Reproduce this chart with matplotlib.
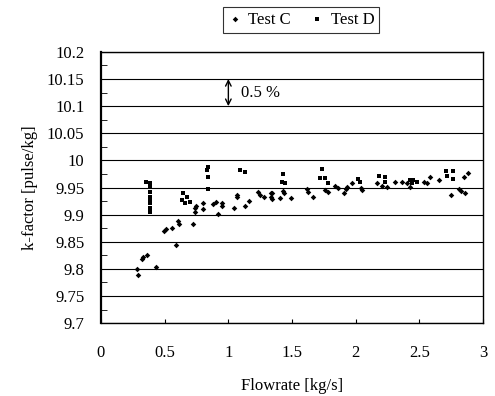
import numpy as np
import matplotlib
matplotlib.use('Agg')
import matplotlib.pyplot as plt
from matplotlib.ticker import MultipleLocator

plt.rcParams['font.family'] = ['Liberation Serif', 'DejaVu Serif']

# Test C (diamonds)
flowC = [0.285, 0.293, 0.32, 0.327, 0.364, 0.432, 0.497, 0.51, 0.555, 0.589,
         0.607, 0.615, 0.725, 0.738, 0.738, 0.744, 0.804, 0.804, 0.882, 0.901,
         0.917, 0.953, 0.953, 1.047, 1.066, 1.066, 1.131, 1.163, 1.231, 1.249,
         1.283, 1.335, 1.335, 1.341, 1.341, 1.406, 1.427, 1.438, 1.49, 1.616,
         1.629, 1.663, 1.76, 1.786, 1.838, 1.864, 1.904, 1.925, 1.93, 1.974,
         2.042, 2.048, 2.166, 2.205, 2.244, 2.31, 2.362, 2.401, 2.427, 2.532,
         2.558, 2.584, 2.657, 2.747, 2.807, 2.825, 2.846, 2.859, 2.885]
kC = [9.799, 9.789, 9.818, 9.821, 9.826, 9.803, 9.870, 9.873, 9.875, 9.844,
      9.889, 9.883, 9.883, 9.913, 9.905, 9.915, 9.922, 9.910, 9.920, 9.924,
      9.901, 9.922, 9.916, 9.912, 9.936, 9.932, 9.915, 9.926, 9.942, 9.936,
      9.932, 9.939, 9.932, 9.939, 9.928, 9.930, 9.944, 9.940, 9.930, 9.947,
      9.942, 9.932, 9.945, 9.942, 9.953, 9.949, 9.940, 9.947, 9.951, 9.959,
      9.950, 9.945, 9.958, 9.953, 9.951, 9.961, 9.961, 9.959, 9.951, 9.961,
      9.958, 9.969, 9.963, 9.936, 9.948, 9.944, 9.969, 9.939, 9.976]

# Test D (squares)
flowD = [0.35, 0.385, 0.385, 0.385, 0.385, 0.385, 0.385, 0.385, 0.385,
         0.634, 0.647, 0.66, 0.673, 0.70, 0.83, 0.843, 0.843, 0.843, 1.092, 1.131,
         1.419, 1.432, 1.445, 1.72, 1.734, 1.76, 1.786, 2.017, 2.035, 2.179,
         2.226, 2.231, 2.427, 2.44, 2.453, 2.48, 2.711, 2.72, 2.763, 2.763]
kD = [9.960, 9.958, 9.952, 9.942, 9.933, 9.927, 9.921, 9.912, 9.905,
      9.927, 9.939, 9.922, 9.933, 9.924, 9.983, 9.987, 9.970, 9.947, 9.983, 9.979,
      9.961, 9.975, 9.958, 9.967, 9.985, 9.967, 9.958, 9.965, 9.961, 9.971,
      9.961, 9.969, 9.964, 9.959, 9.963, 9.961, 9.981, 9.971, 9.981, 9.965]

fig = plt.figure(figsize=(4.95, 3.96), dpi=100)
ax = fig.add_axes([0.204, 0.184, 0.772, 0.685])

ax.scatter(flowC, kC, marker='D', s=8, c='k', linewidths=0, label='Test C', zorder=3)
ax.scatter(flowD, kD, marker='s', s=12, c='k', linewidths=0, label='Test D', zorder=3)

ax.set_xlim(0, 3)
ax.set_ylim(9.7, 10.2)
ax.yaxis.set_minor_locator(MultipleLocator(0.025))
ax.set_xticks(np.arange(0, 3.01, 0.5))
ax.set_xticklabels(['0', '0.5', '1', '1.5', '2', '2.5', '3'])
yt = np.round(np.arange(9.7, 10.201, 0.05), 2)
ax.set_yticks(yt)
ax.set_yticklabels(['%g' % v for v in yt])
ax.grid(axis='y', which='major', color='k', linewidth=0.8)
ax.set_axisbelow(True)
ax.tick_params(axis='x', direction='in', length=3, labelsize=12, pad=16)
ax.tick_params(axis='y', which='major', direction='in', length=0, labelsize=12, pad=12)
ax.tick_params(axis='y', which='minor', direction='in', length=4)
for sp in ax.spines.values():
    sp.set_linewidth(1.0)
ax.spines['left'].set_linewidth(1.6)

ax.set_xlabel('Flowrate [kg/s]', fontsize=12, labelpad=12)
ax.set_ylabel('k-factor [pulse/kg]', fontsize=12, labelpad=6)

ax.annotate('', xy=(1.0, 10.1), xytext=(1.0, 10.15),
            arrowprops=dict(arrowstyle='<->', color='k', lw=1.0, shrinkA=0, shrinkB=0))
ax.text(1.1, 10.125, '0.5 %', fontsize=12, va='center', ha='left')

leg = ax.legend(loc='lower center', bbox_to_anchor=(0.524, 1.04), ncol=2, frameon=True,
                fancybox=False, edgecolor='k', fontsize=12, handlelength=0.8,
                handletextpad=0.4, columnspacing=1.2, borderpad=0.3)
leg.get_frame().set_linewidth(0.8)

fig.savefig('out.png', dpi=100)
